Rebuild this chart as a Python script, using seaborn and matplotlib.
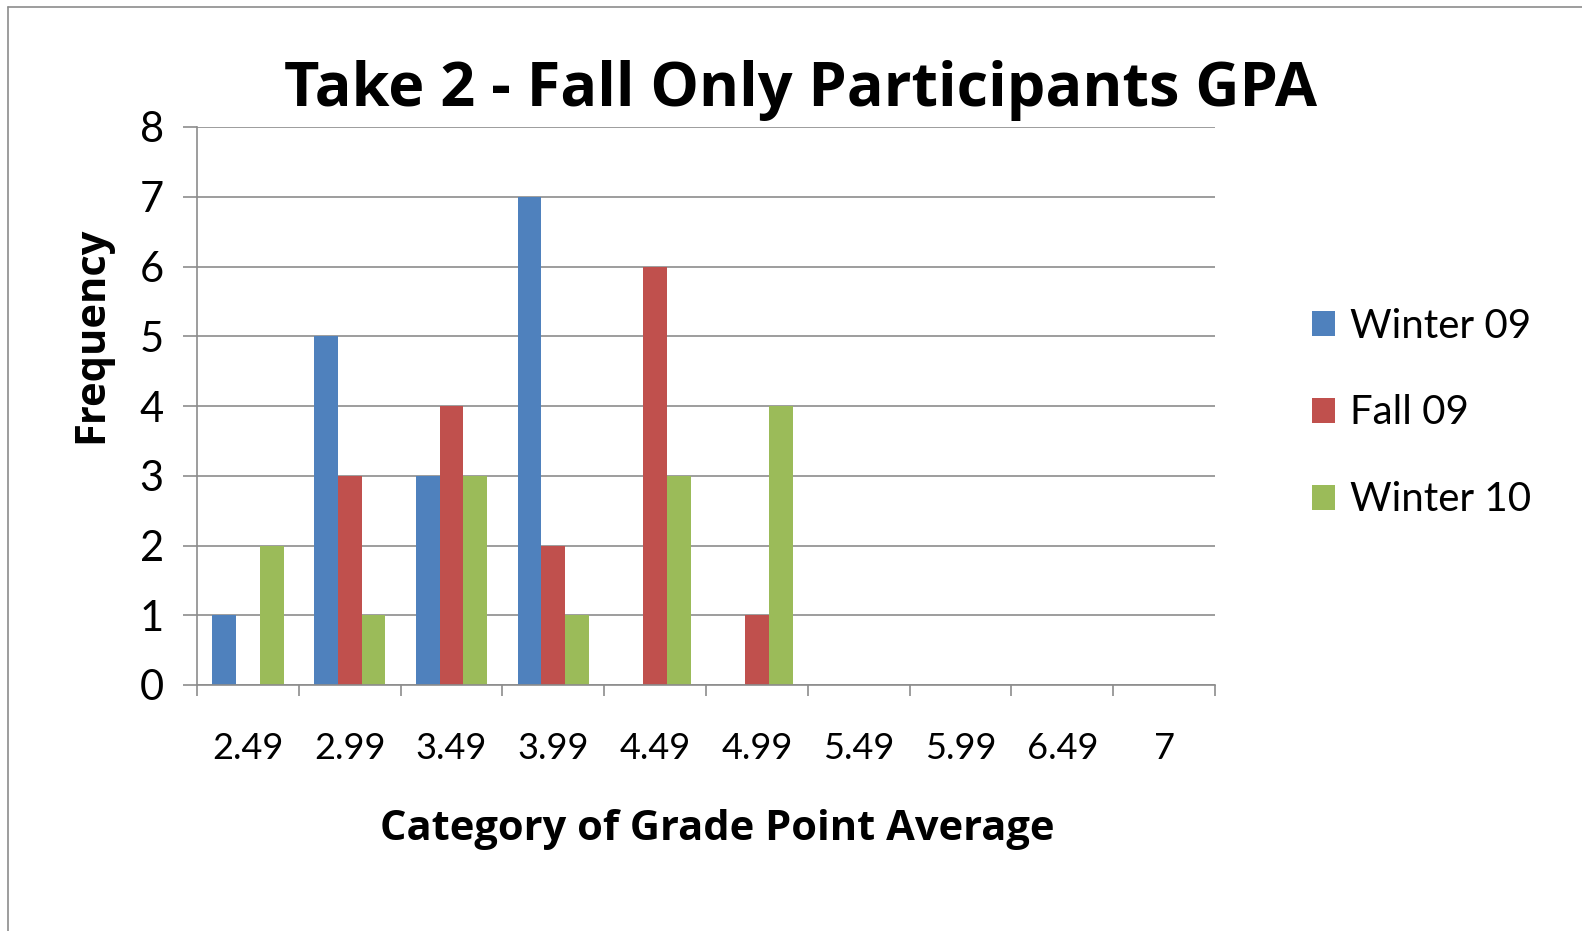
import pandas as pd
import matplotlib.pyplot as plt
import seaborn as sns
from matplotlib.lines import Line2D

# Dados
categorias = ["2.49", "2.99", "3.49", "3.99", "4.49", "4.99", "5.49", "5.99", "6.49", "7"]
winter_09 = [1, 5, 3, 7, 0, 0, 0, 0, 0, 0]
fall_09 = [0, 3, 4, 2, 6, 1, 0, 0, 0, 0]
winter_10 = [2, 1, 3, 1, 3, 4, 0, 0, 0, 0]
series = ["Winter 09", "Fall 09", "Winter 10"]
cores = ["#4F81BD", "#C0504D", "#9BBB59"]

# Tabela longa para o seaborn
df = pd.DataFrame({
    "GPA": categorias * 3,
    "Frequency": winter_09 + fall_09 + winter_10,
    "Serie": [s for s in series for _ in categorias],
})

sns.set_theme(style="white")
plt.rcParams["font.family"] = ["Lato", "DejaVu Sans"]
plt.rcParams["text.color"] = "black"

fig = plt.figure(figsize=(15.82, 9.31), dpi=100)
ax = fig.add_axes([197 / 1582, 1 - 685 / 931, (1215 - 197) / 1582, (685 - 127) / 931])

sns.barplot(data=df, x="GPA", y="Frequency", hue="Serie", palette=cores,
            width=0.7, saturation=1, ax=ax, errorbar=None, linewidth=0)

cinza = "#8C8C8C"
ax.set_xlim(-0.5, len(categorias) - 0.5)
ax.set_ylim(0, 8)
ax.set_yticks(range(0, 9))
ax.yaxis.grid(True, color=cinza, linewidth=1.2)
ax.set_axisbelow(True)
for lado in ["top", "right"]:
    ax.spines[lado].set_visible(False)
for lado in ["left", "bottom"]:
    ax.spines[lado].set_color(cinza)
    ax.spines[lado].set_linewidth(1.2)

ax.set_xticks([i - 0.5 for i in range(len(categorias) + 1)], minor=True)
ax.tick_params(axis="x", which="minor", length=8, width=1.2, color=cinza, direction="out", bottom=True)
ax.tick_params(axis="x", which="major", length=0, pad=34, labelsize=26, labelcolor="black")
ax.tick_params(axis="y", length=10, width=1.2, color=cinza, direction="out", left=True, pad=14,
               labelsize=30, labelcolor="black")
ax.set_xlabel("")
ax.set_ylabel("")

negrito = ["Open Sans", "DejaVu Sans"]
fig.text(0.506, 1 - 106 / 931, "Take 2 - Fall Only Participants GPA", ha="center", va="baseline",
         fontsize=44, fontweight="bold", family=negrito)
fig.text(717 / 1582, 1 - 840 / 931, "Category of Grade Point Average", ha="center", va="baseline",
         fontsize=30, fontweight="bold", family=negrito)
fig.text(92 / 1582, 1 - 335 / 931, "Frequency", ha="center", va="center", rotation=90,
         fontsize=30, fontweight="bold", family=negrito)

handles, labels = ax.get_legend_handles_labels()
ax.legend_.remove()
fig.legend(handles, labels, loc="center left", bbox_to_anchor=(1312 / 1582, 1 - 413 / 931),
           frameon=False, fontsize=29, handlelength=0.58, handleheight=0.58,
           handletextpad=0.36, labelspacing=1.24, borderpad=0, borderaxespad=0)

# Moldura do gráfico (Excel)
fig.add_artist(Line2D([8 / 1582, 8 / 1582], [0, 1 - 7 / 931], color=cinza, linewidth=1.2))
fig.add_artist(Line2D([8 / 1582, 1], [1 - 7 / 931, 1 - 7 / 931], color=cinza, linewidth=1.2))

plt.savefig("out.png", dpi=100)
